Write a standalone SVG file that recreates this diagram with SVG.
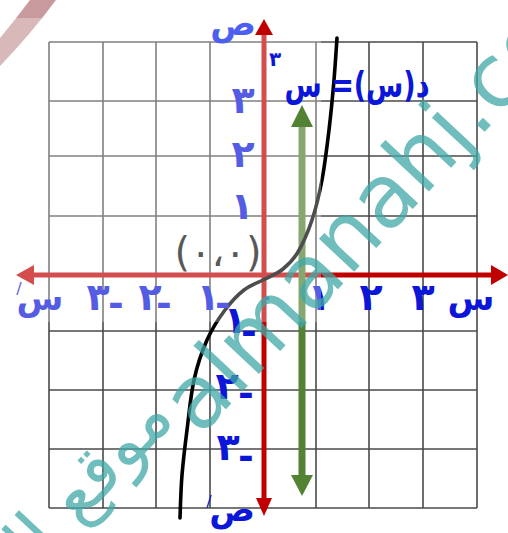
<svg xmlns="http://www.w3.org/2000/svg" width="508" height="533" viewBox="0 0 508 533">
<defs>
<style>
.grid line{stroke:#4a4a4a;stroke-width:1.6}
.ax{stroke:#c00000;stroke-width:5;fill:none}
.arr{fill:#c00000}
.g{fill:#548235}
.lbl{font-family:"DejaVu Sans",sans-serif;font-weight:bold;font-size:38px;text-anchor:middle}
.db{fill:#0b16d8}
.lb{fill:#4d5ff0}
.wm{font-family:"DejaVu Sans",sans-serif;fill:#3fa8a6;opacity:0.75}
</style>
</defs>
<rect width="508" height="533" fill="#ffffff"/>
<path d="M30,0 L56,0 Q30,35 0,66 L0,38 Q15,20 30,0 Z" fill="#c99a9d"/>
<g id="grid" class="grid">
<line x1="49" y1="42" x2="49" y2="508"/>
<line x1="103" y1="42" x2="103" y2="508"/>
<line x1="156" y1="42" x2="156" y2="508"/>
<line x1="210" y1="42" x2="210" y2="508"/>
<line x1="316" y1="42" x2="316" y2="508"/>
<line x1="369" y1="42" x2="369" y2="508"/>
<line x1="423" y1="42" x2="423" y2="508"/>
<line x1="477" y1="42" x2="477" y2="508"/>
<line x1="49" y1="42" x2="477" y2="42"/>
<line x1="49" y1="101" x2="477" y2="101"/>
<line x1="49" y1="156" x2="477" y2="156"/>
<line x1="49" y1="216" x2="477" y2="216"/>
<line x1="49" y1="331" x2="477" y2="331"/>
<line x1="49" y1="390" x2="477" y2="390"/>
<line x1="49" y1="449" x2="477" y2="449"/>
<line x1="49" y1="508" x2="477" y2="508"/>
</g>
<g id="connectors">
<line class="ax" x1="30" y1="275" x2="494" y2="275"/>
<line class="ax" x1="264" y1="32" x2="264" y2="500"/>
<polygon class="arr" points="16,275 34,265 34,285"/>
<polygon class="arr" points="508,275 491,265 491,285"/>
<polygon class="arr" points="264,516 256,498 272,498"/>
<rect class="g" x="298.5" y="125" width="7" height="352"/>
</g>
<g id="curve">
<path d="M337,38 C336.5,45 335.3,64.7 334,80 C332.7,95.3 331,113.3 329,130 C327,146.7 324.8,165 322,180 C319.2,195 316,208 312,220 C308,232 302.8,243.8 298,252 C293.2,260.2 288.5,264.5 283,269 C277.5,273.5 271.5,275.5 265,279 C258.5,282.5 250.7,284.8 244,290 C237.3,295.2 231.2,301.7 225,310 C218.8,318.3 212.2,328.3 207,340 C201.8,351.7 197.3,365 194,380 C190.7,395 189,414.2 187,430 C185,445.8 183.2,460.3 182,475 C180.8,489.7 180.3,510.8 180,518" fill="none" stroke="#000" stroke-width="3.6" stroke-linecap="round"/>
</g>
<g id="labels-under">
<text class="lbl db" x="243" y="113">٣</text>
<text class="lbl db" x="243" y="167">٢</text>
<text class="lbl db" x="242" y="219">١</text>
<text class="lbl db" x="40" y="310" style="font-size:34px">س</text>
<text class="lbl db" x="19" y="294" style="font-size:16px;font-weight:normal">/</text>
<text class="lbl db" x="98" y="310">٣</text><text class="lbl db" x="116" y="316">-</text>
<text class="lbl db" x="150" y="310">٢</text><text class="lbl db" x="164" y="316">-</text>
<text class="lbl db" x="208" y="310">١</text><text class="lbl db" x="223" y="316">-</text>
<text class="lbl db" x="319" y="310">١</text>
<text class="lbl db" x="267" y="304" style="font-size:20px">٠</text>
<text x="218" y="266" style="font-family:'DejaVu Sans',sans-serif;font-size:40px;text-anchor:middle" fill="#111">(٠،٠)</text>
</g>
<rect id="fade" x="0" y="18" width="321" height="304" fill="#ffffff" opacity="0.3"/>
<g id="labels-over">
<polygon class="arr" points="264,19 255,35 273,35"/>
<polygon class="g" points="302,105 291,127 313,127"/>
<polygon class="g" points="302,496 291,475 313,475"/>
<text class="lbl lb" x="233" y="35" style="font-size:34px">ص</text>
<text class="lbl db" x="232" y="521" style="font-size:34px">ص</text>
<text class="lbl db" x="209" y="507" style="font-size:16px;font-weight:normal">/</text>
<text class="lbl db" x="371" y="310">٢</text>
<text class="lbl db" x="423" y="310">٣</text>
<text class="lbl db" x="471" y="310" style="font-size:34px">س</text>
<text class="lbl db" x="235" y="333">١</text><text class="lbl db" x="249" y="344">-</text>
<text class="lbl db" x="227" y="399">٢</text><text class="lbl db" x="246" y="406">-</text>
<text class="lbl db" x="228" y="460">٣</text><text class="lbl db" x="246" y="469">-</text>
<text class="lbl db" x="357" y="97" style="font-size:36px" textLength="145" lengthAdjust="spacingAndGlyphs">د(س)= س</text>
<text class="lbl db" x="275" y="66" style="font-size:20px">٣</text>
</g>
<g id="watermark">
<text class="wm" transform="translate(200,437) rotate(-47)" style="font-size:88px">almanahj.com</text>
<text class="wm" transform="translate(176,420) rotate(-47)" style="font-size:70px;text-anchor:end">موقع المناهج</text>
</g>
</svg>
